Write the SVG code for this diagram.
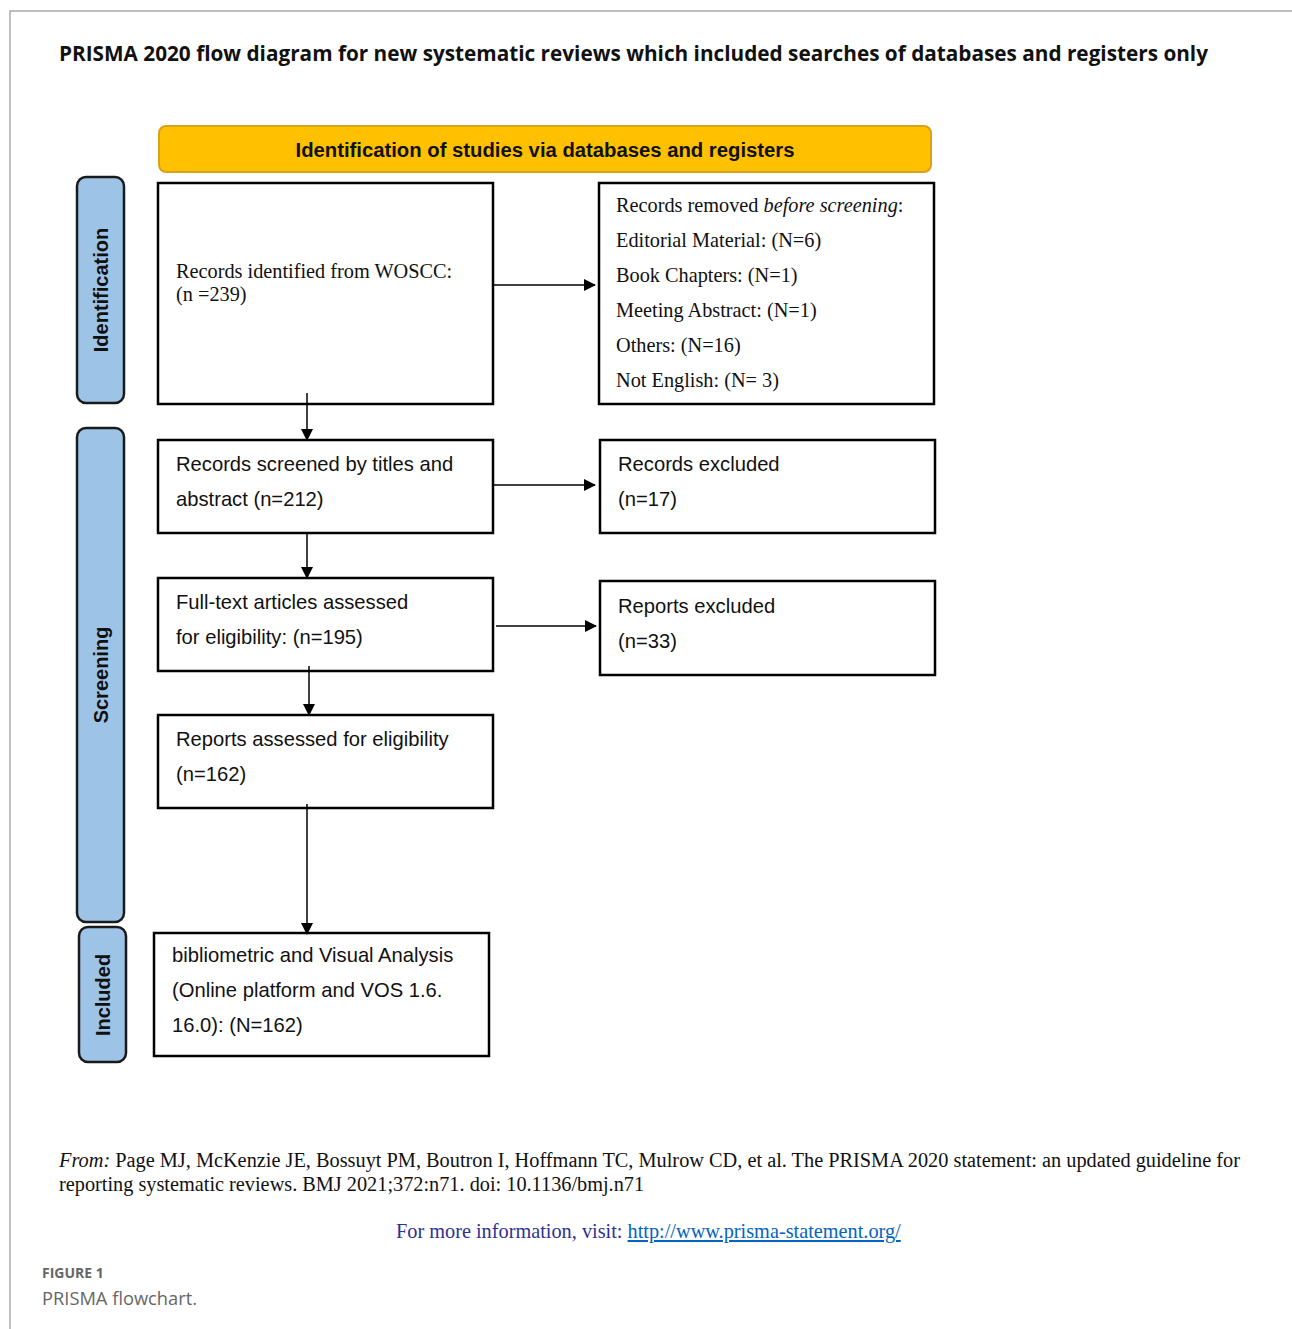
<svg xmlns="http://www.w3.org/2000/svg" width="1292" height="1329" viewBox="0 0 1292 1329">
<defs>
<marker id="ah" markerWidth="12" markerHeight="12" refX="11" refY="6" orient="auto" markerUnits="userSpaceOnUse">
<path d="M0,0 L12,6 L0,12 Z" fill="#000"/>
</marker>
<style>
.box{fill:#fff;stroke:#000;stroke-width:2.5}
.side{fill:#9DC3E6;stroke:#1a1a1a;stroke-width:2.5}
.ar{font-family:"Liberation Sans",Arial,sans-serif;font-size:20.2px;fill:#111}
.tm{font-family:"Liberation Serif","Times New Roman",serif;font-size:20.3px;fill:#111}
.sl{font-family:"Liberation Sans",Arial,sans-serif;font-size:20px;font-weight:bold;fill:#111;text-anchor:middle}
.cn{stroke:#000;stroke-width:1.5;fill:none}
</style>
</defs>
<rect x="0" y="0" width="1292" height="1329" fill="#fff"/>
<path d="M10,1329 L10,11 L1292,11" fill="none" stroke="#aaa" stroke-width="1.5"/>
<text x="59" y="61" font-family="'Open Sans','Noto Sans',sans-serif" font-size="21" font-weight="bold" fill="#111" textLength="1149" lengthAdjust="spacingAndGlyphs">PRISMA 2020 flow diagram for new systematic reviews which included searches of databases and registers only</text>

<g id="banner">
<rect x="159" y="126" width="772" height="46" rx="7" fill="#FFC000" stroke="#D9A21B" stroke-width="2"/>
<text x="545" y="157" font-family="'Liberation Sans',Arial,sans-serif" font-size="20" font-weight="bold" fill="#111" text-anchor="middle" textLength="499" lengthAdjust="spacingAndGlyphs">Identification of studies via databases and registers</text>
</g>

<g id="side-identification">
<rect class="side" x="77" y="177" width="47" height="226" rx="9"/>
<text class="sl" transform="translate(108,290) rotate(-90)">Identification</text>
</g>
<g id="side-screening">
<rect class="side" x="77" y="428" width="47" height="494" rx="9"/>
<text class="sl" transform="translate(108,675) rotate(-90)">Screening</text>
</g>
<g id="side-included">
<rect class="side" x="79" y="927" width="47" height="135" rx="9"/>
<text class="sl" transform="translate(110,995) rotate(-90)">Included</text>
</g>

<g id="n-identified">
<rect class="box" x="158" y="183" width="335" height="221"/>
<text class="tm" x="176" y="278">Records identified from WOSCC:</text>
<text class="tm" x="176" y="301">(n =239)</text>
</g>
<g id="n-removed">
<rect class="box" x="599" y="183" width="335" height="221"/>
<text class="tm" x="616" y="212">Records removed <tspan font-style="italic">before screening</tspan>:</text>
<text class="tm" x="616" y="247">Editorial Material: (N=6)</text>
<text class="tm" x="616" y="282">Book Chapters: (N=1)</text>
<text class="tm" x="616" y="317">Meeting Abstract: (N=1)</text>
<text class="tm" x="616" y="352">Others: (N=16)</text>
<text class="tm" x="616" y="387">Not English: (N= 3)</text>
</g>
<g id="n-screened">
<rect class="box" x="158" y="440" width="335" height="93"/>
<text class="ar" x="176" y="471">Records screened by titles and</text>
<text class="ar" x="176" y="506">abstract (n=212)</text>
</g>
<g id="n-rexcluded">
<rect class="box" x="600" y="440" width="335" height="93"/>
<text class="ar" x="618" y="471">Records excluded</text>
<text class="ar" x="618" y="506">(n=17)</text>
</g>
<g id="n-fulltext">
<rect class="box" x="158" y="578" width="335" height="93"/>
<text class="ar" x="176" y="609">Full-text articles assessed</text>
<text class="ar" x="176" y="644">for eligibility: (n=195)</text>
</g>
<g id="n-repexcluded">
<rect class="box" x="600" y="581" width="335" height="94"/>
<text class="ar" x="618" y="613">Reports excluded</text>
<text class="ar" x="618" y="648">(n=33)</text>
</g>
<g id="n-assessed">
<rect class="box" x="158" y="715" width="335" height="93"/>
<text class="ar" x="176" y="746">Reports assessed for eligibility</text>
<text class="ar" x="176" y="781">(n=162)</text>
</g>
<g id="n-included">
<rect class="box" x="154" y="933" width="335" height="123"/>
<text class="ar" x="172" y="962">bibliometric and Visual Analysis</text>
<text class="ar" x="172" y="997">(Online platform and VOS 1.6.</text>
<text class="ar" x="172" y="1032">16.0): (N=162)</text>
</g>

<g id="connectors">
<line class="cn" x1="494" y1="285" x2="595" y2="285" marker-end="url(#ah)"/>
<line class="cn" x1="494" y1="485" x2="595" y2="485" marker-end="url(#ah)"/>
<line class="cn" x1="496" y1="626" x2="596" y2="626" marker-end="url(#ah)"/>
<line class="cn" x1="307" y1="393" x2="307" y2="440" marker-end="url(#ah)"/>
<line class="cn" x1="307" y1="533" x2="307" y2="578" marker-end="url(#ah)"/>
<line class="cn" x1="309" y1="666" x2="309" y2="715" marker-end="url(#ah)"/>
<line class="cn" x1="307" y1="804" x2="307" y2="934" marker-end="url(#ah)"/>
</g>

<text x="59" y="1167" font-family="'Liberation Serif','Times New Roman',serif" font-size="20" fill="#111" textLength="1181" lengthAdjust="spacingAndGlyphs"><tspan font-style="italic">From:</tspan>  Page MJ, McKenzie JE, Bossuyt PM, Boutron I, Hoffmann TC, Mulrow CD, et al. The PRISMA 2020 statement: an updated guideline for</text>
<text x="59" y="1191" font-family="'Liberation Serif','Times New Roman',serif" font-size="20.3" fill="#111">reporting systematic reviews. BMJ 2021;372:n71. doi: 10.1136/bmj.n71</text>
<text x="396" y="1238" font-family="'Liberation Serif','Times New Roman',serif" font-size="20.3" fill="#2E3192">For more information, visit: <tspan fill="#0563C1" text-decoration="underline">http://www.prisma-statement.org/</tspan></text>
<text x="42" y="1278" font-family="'Open Sans','Noto Sans',sans-serif" font-size="14" font-weight="bold" fill="#666">FIGURE 1</text>
<text x="42" y="1305" font-family="'Open Sans','Noto Sans',sans-serif" font-size="18.3" fill="#666">PRISMA flowchart.</text>
</svg>
